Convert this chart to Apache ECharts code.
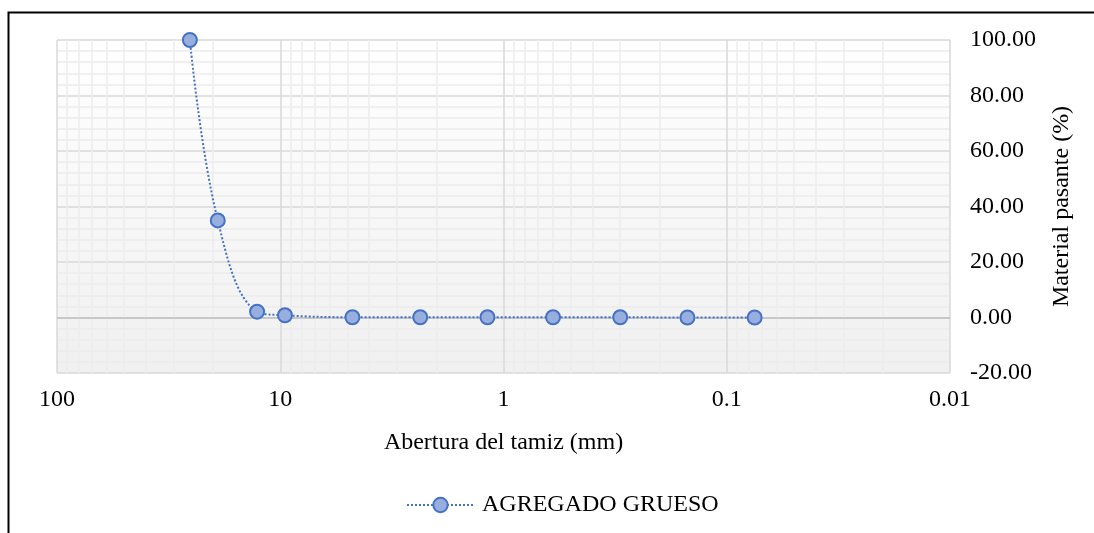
<!DOCTYPE html>
<html>
<head>
<meta charset="utf-8">
<script src="https://cdn.jsdelivr.net/npm/echarts@6/dist/echarts.min.js"></script>
<style>html,body{margin:0;padding:0;background:#fff;}#c{width:1094px;height:533px;}</style>
</head>
<body>
<div id="c"></div>
<script>
const seriesName = 'AGREGADO GRUESO';
const sieveOpening = [25.4, 19.05, 12.7, 9.525, 4.75, 2.36, 1.18, 0.6, 0.3, 0.15, 0.075];
const percentPassing = [100.0, 35.0, 2.1, 0.8, 0.1, 0.1, 0.1, 0.1, 0.1, 0.0, 0.0];
const xMinorLines = [0.02,0.03,0.04,0.05,0.06,0.07,0.08,0.09,
  0.2,0.3,0.4,0.5,0.6,0.7,0.8,0.9,
  2,3,4,5,6,7,8,9,
  20,30,40,50,60,70,80,90];
const xAxisTitle = 'Abertura del tamiz (mm)';
const yAxisTitle = 'Material pasante (%)';

const font = 'Liberation Serif, Times New Roman, serif';
const fs = 24;
const chart = echarts.init(document.getElementById('c'));
chart.setOption({
  animation: false,
  backgroundColor: '#fff',
  textStyle: {fontFamily: font},
  graphic: [{
    type: 'rect', left: 6, top: 10, silent: true,
    shape: {x: 0, y: 0, width: 1200, height: 700},
    style: {fill: 'none', stroke: '#000', lineWidth: 2}
  }],
  grid: {
    left: 57, right: 144, top: 40, height: 333,
    show: true, borderWidth: 0,
    backgroundColor: {type: 'linear', x: 0, y: 0, x2: 0, y2: 1,
      colorStops: [{offset: 0, color: '#ffffff'}, {offset: 1, color: '#f0f0f0'}]}
  },
  legend: {
    left: 401, top: 488,
    itemWidth: 67, itemHeight: 18, itemGap: 10,
    textStyle: {fontFamily: font, fontSize: fs, color: '#000', padding: [0, 0, 0, 3]},
    data: [seriesName]
  },
  xAxis: {
    type: 'log', logBase: 10, min: 0.01, max: 100, inverse: true,
    name: xAxisTitle, nameLocation: 'middle', nameGap: 58, nameMoveOverlap: false,
    nameTextStyle: {fontFamily: font, fontSize: fs, color: '#000'},
    axisLine: {show: false}, axisTick: {show: false},
    axisLabel: {fontFamily: font, fontSize: fs, color: '#000', margin: 15},
    splitLine: {show: true, lineStyle: {color: '#d9d9d9', width: 1.5}}
  },
  yAxis: {
    type: 'value', position: 'right', min: -20, max: 100, interval: 20,
    name: yAxisTitle, nameLocation: 'middle', nameGap: 100, nameRotate: 90, nameMoveOverlap: false,
    nameTextStyle: {fontFamily: font, fontSize: fs, color: '#000'},
    axisLine: {show: false}, axisTick: {show: false},
    axisLabel: {fontFamily: font, fontSize: fs, color: '#000', margin: 20,
      formatter: v => v.toFixed(2)},
    splitLine: {show: true, lineStyle: {color: '#d9d9d9', width: 1.5}},
    minorTick: {show: false, splitNumber: 5},
    minorSplitLine: {show: true, lineStyle: {color: '#ececec', width: 1.5}}
  },
  series: [
    {
      type: 'line', name: '_grid', data: [], silent: true, z: 1,
      markLine: {
        silent: true, symbol: 'none', label: {show: false},
        lineStyle: {color: '#ececec', type: 'solid', width: 1.5},
        data: xMinorLines.map(v => ({xAxis: v}))
      }
    },
    {
      type: 'line', name: '_zero', data: [], silent: true, z: 2,
      markLine: {
        silent: true, symbol: 'none', label: {show: false},
        lineStyle: {color: '#bfbfbf', type: 'solid', width: 1.5},
        data: [{yAxis: 0}]
      }
    },
    {
      type: 'line', name: seriesName, z: 5,
      data: sieveOpening.map((x, i) => [x, percentPassing[i]]),
      smooth: 0.4,
      symbol: 'circle', symbolSize: 14,
      lineStyle: {color: '#4472C4', width: 2, type: [2, 2]},
      itemStyle: {color: '#98AEDF', borderColor: '#4472C4', borderWidth: 2}
    }
  ]
});
</script>
</body>
</html>
